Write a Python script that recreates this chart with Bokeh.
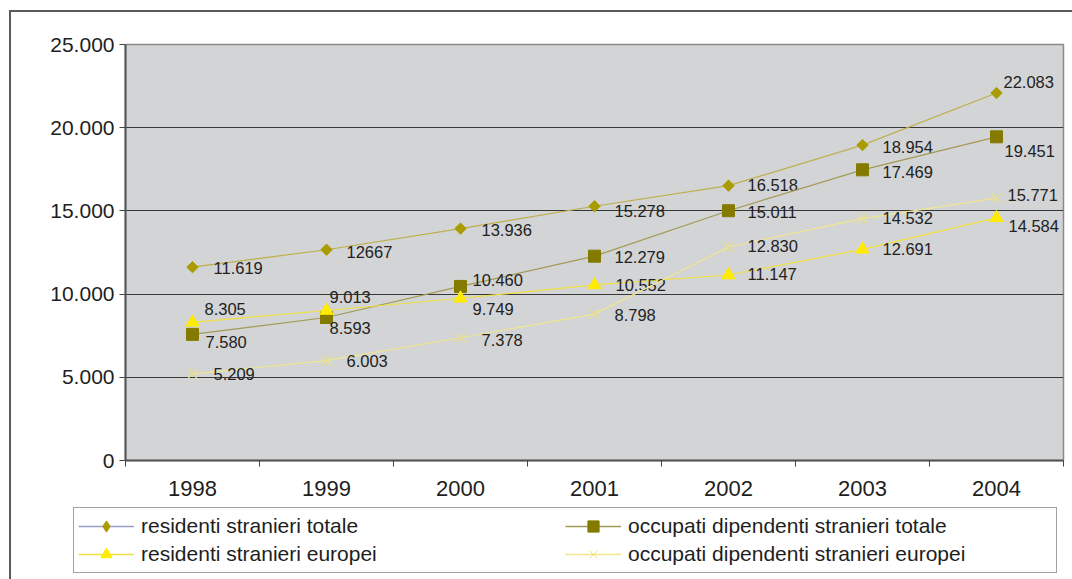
import numpy as np
from bokeh.plotting import figure
from bokeh.layouts import column
from bokeh.models import (ColumnDataSource, FixedTicker, Legend, LegendItem,
                          Range1d)
from bokeh.core.properties import value
from bokeh.embed import file_html
from bokeh.resources import INLINE

# ---- data ---------------------------------------------------------------
years = ["1998", "1999", "2000", "2001", "2002", "2003", "2004"]
residenti_totale = [11619, 12667, 13936, 15278, 16518, 18954, 22083]
occupati_totale = [7580, 8593, 10460, 12279, 15011, 17469, 19451]
residenti_europei = [8305, 9013, 9749, 10552, 11147, 12691, 14584]
occupati_europei = [5209, 6003, 7378, 8798, 12830, 14532, 15771]

y_tick_values = [0, 5000, 10000, 15000, 20000, 25000]
y_tick_labels = ["0", "5.000", "10.000", "15.000", "20.000", "25.000"]

series_names = [
    "residenti stranieri totale",
    "occupati dipendenti stranieri totale",
    "residenti stranieri europei",
    "occupati dipendenti stranieri europei",
]


def it_fmt(v):
    return f"{v:,}".replace(",", ".")


lbl_res_tot = [it_fmt(v) for v in residenti_totale]
lbl_res_tot[1] = str(residenti_totale[1])  # printed without separator
lbl_occ_tot = [it_fmt(v) for v in occupati_totale]
lbl_res_eur = [it_fmt(v) for v in residenti_europei]
lbl_occ_eur = [it_fmt(v) for v in occupati_europei]

# label placement (screen px from the marker centre, +y downwards)
off_res_tot = ([21, 20, 21, 20, 19, 20, 7], [1, 2, 1, 5, -1, 2, -11])
off_occ_tot = ([13, 3, 12, 20, 19, 20, 8], [8, 10, -6, 1, 1, 2, 14])
off_res_eur = ([12, 3, 12, 21, 19, 20, 12], [-13, -14, 11, 0, -1, 0, 8])
off_occ_eur = ([21, 20, 21, 20, 19, 20, 11], [0, 0, 2, 1, -1, -1, -3])

FONT = "Liberation Sans"
xs = [i + 0.5 for i in range(len(years))]

# ---- chart --------------------------------------------------------------
p = figure(width=1072, height=505, output_backend="svg", toolbar_location=None,
           x_range=Range1d(0, len(years)), y_range=Range1d(0, 25000),
           min_border_left=125, min_border_right=9, min_border_top=44,
           min_border_bottom=45)
p.frame_align = False
p.background_fill_color = "#d3d4d6"
p.border_fill_alpha = 0
p.outline_line_color = "#8a8a8a"
p.outline_line_width = 1.5

p.xaxis.ticker = FixedTicker(ticks=xs, minor_ticks=list(range(len(years) + 1)))
p.xaxis.major_label_overrides = {x: y for x, y in zip(xs, years)}
p.xaxis.major_tick_out = 0
p.xaxis.major_tick_in = 0
p.xaxis.minor_tick_out = 6
p.xaxis.minor_tick_in = 0
p.xaxis.minor_tick_line_color = "#444"
p.xaxis.major_label_standoff = 14

p.yaxis.ticker = FixedTicker(ticks=y_tick_values)
p.yaxis.major_label_overrides = {v: t for v, t in zip(y_tick_values, y_tick_labels)}
p.yaxis.major_tick_out = 6
p.yaxis.major_tick_in = 0
p.yaxis.minor_tick_line_color = None
p.yaxis.major_label_standoff = 5

for ax in (p.xaxis, p.yaxis):
    ax.axis_line_color = "#555"
    ax.axis_line_width = 2
    ax.major_tick_line_color = "#444"
    ax.major_label_text_font = FONT
    ax.major_label_text_color = "#1e1e1e"
p.yaxis.major_label_text_font_size = "21px"
p.xaxis.major_label_text_font_size = "22px"

p.xgrid.grid_line_color = None
p.ygrid.ticker = FixedTicker(ticks=[5000, 10000, 15000, 20000])
p.ygrid.grid_line_color = "#383838"
p.ygrid.grid_line_width = 1

# (values, labels, label offsets, line colour, legend line colour,
#  chart marker, legend marker)
specs = [
    (residenti_totale, lbl_res_tot, off_res_tot, "#bdb04a", "#9c9cc8",
     dict(marker="square", angle=np.pi / 4, size=8, fill_color="#a99b00",
          line_color="#a99b00"),
     dict(marker="diamond", fill_color="#a99b00", line_color="#a99b00")),
    (occupati_totale, lbl_occ_tot, off_occ_tot, "#a39a55", "#a39a55",
     dict(marker="square", size=12, fill_color="#857a00", line_color="#857a00"),
     dict(marker="square", fill_color="#857a00", line_color="#857a00")),
    (residenti_europei, lbl_res_eur, off_res_eur, "#efe040", "#efe040",
     dict(marker="triangle", size=13, fill_color="#ffec00", line_color="#ffec00"),
     dict(marker="triangle", fill_color="#ffec00", line_color="#ffec00")),
    (occupati_europei, lbl_occ_eur, off_occ_eur, "#efe68e", "#efe68e",
     dict(marker="x", size=13, line_color="#ece182", line_width=1.2),
     dict(marker="x", line_color="#ece182", line_width=1)),
]

# ---- legend strip -------------------------------------------------------
pl = figure(width=1072, height=74, output_backend="svg", toolbar_location=None,
            x_range=Range1d(0, 1), y_range=Range1d(0, 1),
            x_axis_type=None, y_axis_type=None,
            min_border_left=0, min_border_right=0, min_border_top=0,
            min_border_bottom=0)
pl.frame_align = False
pl.outline_line_color = None
pl.background_fill_alpha = 0
pl.border_fill_alpha = 0

items = []
for (vals, labels, offs, lcol, legend_lcol, mk, lmk), name in zip(specs, series_names):
    src = ColumnDataSource(dict(x=xs, y=vals, t=labels, dx=offs[0], dy=offs[1]))
    p.line("x", "y", source=src, line_color=lcol, line_width=1.2)
    p.scatter("x", "y", source=src, **mk)
    p.text("x", "y", text="t", source=src, x_offset="dx", y_offset="dy",
           text_font=value(FONT), text_font_size="16.5px", text_color="#222",
           text_align="left", text_baseline="middle")
    # legend swatches: one point parked outside the strip's visible range
    kl = pl.line(x=[-9, -8], y=[-9, -9], line_color=legend_lcol, line_width=1.5)
    ks = pl.scatter(x=[-9], y=[-9], **lmk)
    items.append(LegendItem(label=name, renderers=[kl, ks]))

# legend fills column by column: keep "totale" on the first row
legend = Legend(items=[items[0], items[2], items[1], items[3]], ncols=2,
                location=(73, 6), padding=4, spacing=0, margin=0,
                glyph_width=56, glyph_height=28, label_standoff=7,
                label_width=424, label_text_font=FONT,
                label_text_font_size="21px", label_text_color="#1e1e1e",
                border_line_color="#444", border_line_width=1,
                background_fill_color="white", background_fill_alpha=1)
pl.add_layout(legend, "center")

# outer chart frame: top and left edges
layout = column(p, pl, spacing=0,
                styles={"background-color": "#ffffff",
                        "box-shadow": "inset 9px 10px 0 0 #ffffff, "
                                      "inset 11px 12px 0 0 #5a5a5a"})

open("out.html", "w").write(file_html(layout, INLINE))
